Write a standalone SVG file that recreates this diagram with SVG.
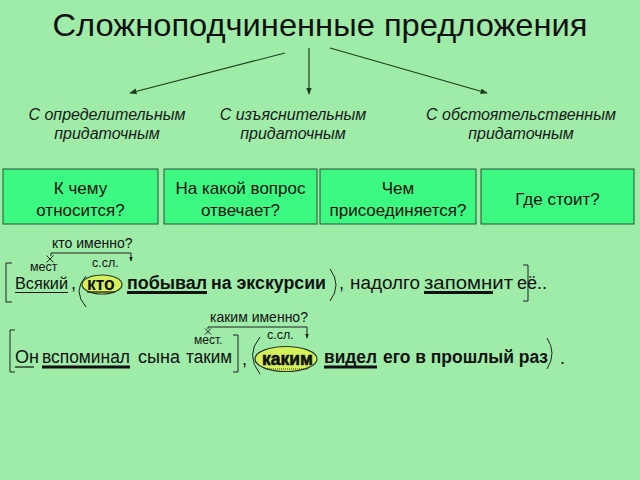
<svg xmlns="http://www.w3.org/2000/svg" width="640" height="480" viewBox="0 0 640 480">
<defs>
<marker id="ah" viewBox="0 0 10 10" refX="9" refY="5" markerWidth="6" markerHeight="6" orient="auto">
<path d="M0,1 L10,5 L0,9 Z" fill="#1c3f1c"/>
</marker>
<marker id="sh" viewBox="0 0 10 10" refX="9" refY="5" markerWidth="5" markerHeight="5" orient="auto">
<path d="M0,1 L10,5 L0,9 Z" fill="#222"/>
</marker>
<style>
text{font-family:"Liberation Sans",Arial,sans-serif;fill:#111}
.title{font-size:32px;text-anchor:middle}
.sub{font-size:16px;font-style:italic;text-anchor:middle;fill:#1a1a1a}
.box{fill:#3cf982;stroke:#2f4f36;stroke-width:1}
.bt{font-size:17px;text-anchor:middle}
.s{font-size:18px}
.b{font-size:17.5px;font-weight:bold}
.sm{font-size:12.5px}
.q{font-size:14px}
.conn{stroke:#1c3f1c;stroke-width:1.2;fill:none}
.thin{stroke:#222;stroke-width:1;fill:none}
.ul{stroke:#111;stroke-width:1.2}
.ul2{stroke:#111;stroke-width:3}
.ell{fill:#d6f25a;stroke:#2a3a2a;stroke-width:1.2}
</style>
</defs>
<rect width="640" height="480" fill="#9eeca8"/>

<g id="title"><text class="title" x="320" y="36" textLength="535" lengthAdjust="spacingAndGlyphs">Сложноподчиненные предложения</text></g>

<g id="connectors">
<line class="conn" x1="285" y1="53" x2="130" y2="93" marker-end="url(#ah)"/>
<line class="conn" x1="309" y1="48" x2="309" y2="94" marker-end="url(#ah)"/>
<line class="conn" x1="330" y1="48" x2="487" y2="93" marker-end="url(#ah)"/>
</g>

<g id="sub1"><text class="sub" x="107" y="120">С определительным</text><text class="sub" x="107" y="139">придаточным</text></g>
<g id="sub2"><text class="sub" x="293" y="120">С изъяснительным</text><text class="sub" x="293" y="139">придаточным</text></g>
<g id="sub3"><text class="sub" x="521" y="120">С обстоятельственным</text><text class="sub" x="521" y="139">придаточным</text></g>

<g id="box1"><rect class="box" x="3" y="169" width="155" height="55"/><text class="bt" x="80.5" y="194">К чему</text><text class="bt" x="80.5" y="216">относится?</text></g>
<g id="box2"><rect class="box" x="164" y="169" width="153" height="55"/><text class="bt" x="240.5" y="194">На какой вопрос</text><text class="bt" x="240.5" y="216">отвечает?</text></g>
<g id="box3"><rect class="box" x="320" y="169" width="156" height="55"/><text class="bt" x="398" y="194">Чем</text><text class="bt" x="398" y="216">присоединяется?</text></g>
<g id="box4"><rect class="box" x="481" y="169" width="153" height="55"/><text class="bt" x="557.5" y="205">Где стоит?</text></g>

<g id="sentence1">
<text class="q" x="52" y="248">кто именно?</text>
<path class="thin" d="M51,256 L51,253 L131,253 L131,261" marker-end="url(#sh)"/>
<path class="thin" d="M46.5,255.5 L53.5,262.5 M53.5,255.5 L46.5,262.5"/>
<text class="sm" x="92" y="267">с.сл.</text>
<text class="sm" x="30" y="271">мест</text>
<path class="thin" d="M12,263 L6,263 L6,302 L12,302"/>
<text class="s" x="15" y="289" style="font-size:16.5px" textLength="53" lengthAdjust="spacingAndGlyphs">Всякий</text>
<line class="ul" x1="15" y1="292.5" x2="68" y2="292.5"/>
<text class="s" x="71" y="289">,</text>
<path class="thin" d="M86,276 Q72,291 86,307"/>
<ellipse class="ell" cx="102" cy="284.5" rx="20" ry="9.5"/>
<text class="b" x="87" y="290">кто</text>
<line class="ul" x1="87" y1="292" x2="115" y2="292"/>
<text class="b" x="127" y="289" textLength="80" lengthAdjust="spacingAndGlyphs">побывал</text>
<line class="ul2" x1="127" y1="292.5" x2="207" y2="292.5"/>
<text class="b" x="211" y="289" textLength="115" lengthAdjust="spacingAndGlyphs">на экскурсии</text>
<path class="thin" d="M330,269 Q342,285 330,301"/>
<text class="s" x="339" y="289">,</text>
<text class="s" x="350" y="289" textLength="70" lengthAdjust="spacingAndGlyphs">надолго</text>
<text class="s" x="424" y="289" textLength="89" lengthAdjust="spacingAndGlyphs">запомнит</text>
<line class="ul2" x1="424" y1="292.5" x2="493" y2="292.5"/>
<text class="s" x="517" y="289">её..</text>
<path class="thin" d="M523,265 L528,265 L528,301 L523,301"/>
</g>

<g id="sentence2">
<text class="q" x="210" y="322">каким именно?</text>
<path class="thin" d="M208,329 L208,327 L307,327 L307,338" marker-end="url(#sh)"/>
<path class="thin" d="M205,328.5 L211,334.5 M211,328.5 L205,334.5"/>
<text class="sm" x="267" y="339">с.сл.</text>
<text class="sm" x="194" y="344" style="font-size:12px">мест.</text>
<path class="thin" d="M15,330 L10,330 L10,372 L15,372"/>
<text class="s" x="15" y="363">Он</text>
<line class="ul" x1="15" y1="367" x2="34" y2="367"/>
<text class="s" x="42" y="363" textLength="88" lengthAdjust="spacingAndGlyphs">вспоминал</text>
<line class="ul2" x1="42" y1="367" x2="130" y2="367"/>
<text class="s" x="138" y="363" textLength="42" lengthAdjust="spacingAndGlyphs">сына</text>
<text class="s" x="186" y="363" textLength="46" lengthAdjust="spacingAndGlyphs">таким</text>
<path class="thin" d="M233,335 L238,335 L238,372 L233,372"/>
<text class="s" x="242" y="365">,</text>
<path class="thin" d="M260,337 Q245,355 260,374"/>
<ellipse class="ell" cx="286" cy="359" rx="31" ry="12.5"/>
<text class="b" x="262" y="365" style="font-weight:900;stroke:#111;stroke-width:0.6">каким</text>
<line x1="265" y1="369" x2="309" y2="369" stroke="#333" stroke-width="1" stroke-dasharray="1,1"/>
<text class="b" x="324" y="363" textLength="53" lengthAdjust="spacingAndGlyphs">видел</text>
<line class="ul2" x1="324" y1="367" x2="377" y2="367"/>
<text class="b" x="383" y="363" textLength="165" lengthAdjust="spacingAndGlyphs">его в прошлый раз</text>
<path class="thin" d="M547,338 Q557,353 547,369"/>
<text class="s" x="560" y="364">.</text>
</g>
</svg>
